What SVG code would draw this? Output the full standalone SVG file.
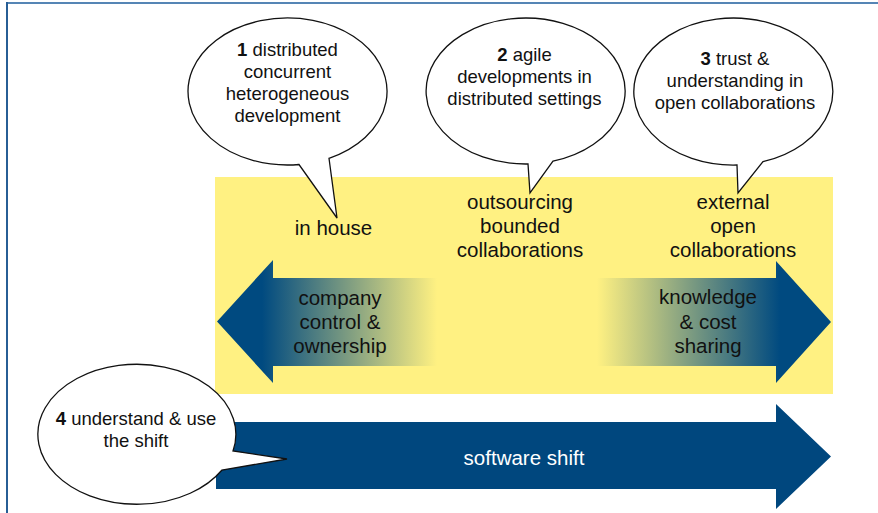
<svg xmlns="http://www.w3.org/2000/svg" width="878" height="513" viewBox="0 0 878 513">
  <defs>
    <linearGradient id="fadeLeft" gradientUnits="userSpaceOnUse" x1="262" y1="0" x2="437" y2="0">
      <stop offset="0" stop-color="#004A80"/>
      <stop offset="1" stop-color="#FFF182"/>
    </linearGradient>
    <linearGradient id="fadeRight" gradientUnits="userSpaceOnUse" x1="597" y1="0" x2="780" y2="0">
      <stop offset="0" stop-color="#FFF182"/>
      <stop offset="1" stop-color="#004A80"/>
    </linearGradient>
  </defs>
  <style>
    text { font-family: "Liberation Sans", Arial, sans-serif; fill: #111; text-anchor: middle; }
    .bub { fill: #fff; stroke: #111; stroke-width: 1.3; stroke-linejoin: miter; }
    .bt { font-size: 18.5px; }
    .zt { font-size: 20.5px; }
    .wt { font-size: 20.5px; fill: #fff; }
    b, .num { font-weight: bold; }
  </style>

  <rect x="0" y="0" width="878" height="513" fill="#fff"/>
  <!-- frame -->
  <line x1="7" y1="3" x2="878" y2="3" stroke="#5585B5" stroke-width="2"/>
  <line x1="7" y1="2" x2="7" y2="513" stroke="#275E95" stroke-width="2"/>

  <!-- context band -->
  <g id="band">
    <rect x="215" y="177" width="618" height="217" fill="#FFF182"/>
    <text class="zt" x="333.5" y="235">in house</text>
    <text class="zt" x="520" y="209">outsourcing</text>
    <text class="zt" x="520" y="233">bounded</text>
    <text class="zt" x="520" y="257">collaborations</text>
    <text class="zt" x="733" y="209">external</text>
    <text class="zt" x="733" y="233">open</text>
    <text class="zt" x="733" y="257">collaborations</text>
  </g>

  <g id="connectors">
    <g id="arrow-control">
      <polygon points="437,278 273,278 273,260 217,321.5 273,383 273,366 437,366" fill="url(#fadeLeft)"/>
      <text class="zt" x="340" y="305">company</text>
      <text class="zt" x="340" y="329">control &amp;</text>
      <text class="zt" x="340" y="353">ownership</text>
    </g>
    <g id="arrow-sharing">
      <polygon points="597,278 776,278 776,261 831,322 776,383 776,366 597,366" fill="url(#fadeRight)"/>
      <text class="zt" x="708" y="304">knowledge</text>
      <text class="zt" x="708" y="329">&amp; cost</text>
      <text class="zt" x="708" y="353">sharing</text>
    </g>
    <g id="arrow-shift">
      <polygon points="216,422 776,422 776,404 831,456.5 776,509 776,489 216,489" fill="#00477E"/>
      <text class="wt" x="524" y="465">software shift</text>
    </g>
  </g>

  <!-- callouts -->
  <g id="bubble-1">
    <path class="bub" d="M299,164.5 A99.5,73.5 0 1 1 329,158.3 L337,218 Z"/>
    <text class="bt" x="287.5" y="56"><tspan class="num">1</tspan> distributed</text>
    <text class="bt" x="287.5" y="78">concurrent</text>
    <text class="bt" x="287.5" y="100">heterogeneous</text>
    <text class="bt" x="287.5" y="122">development</text>
  </g>
  <g id="bubble-2">
    <path class="bub" d="M528,164 A99.5,73 0 1 1 553,161.2 L530,193 Z"/>
    <text class="bt" x="524.5" y="61"><tspan class="num">2</tspan> agile</text>
    <text class="bt" x="524.5" y="83">developments in</text>
    <text class="bt" x="524.5" y="105">distributed settings</text>
  </g>
  <g id="bubble-3">
    <path class="bub" d="M737,165 A99.5,73.5 0 1 1 763,161.7 L738,193 Z"/>
    <text class="bt" x="735" y="65"><tspan class="num">3</tspan> trust &amp;</text>
    <text class="bt" x="735" y="87">understanding in</text>
    <text class="bt" x="735" y="109">open collaborations</text>
  </g>
  <g id="bubble-4">
    <path class="bub" d="M222,470 A99,70 0 1 1 233,451 L287,459 Z"/>
    <text class="bt" x="136" y="425"><tspan class="num">4</tspan> understand &amp; use</text>
    <text class="bt" x="136" y="447">the shift</text>
  </g>
</svg>
